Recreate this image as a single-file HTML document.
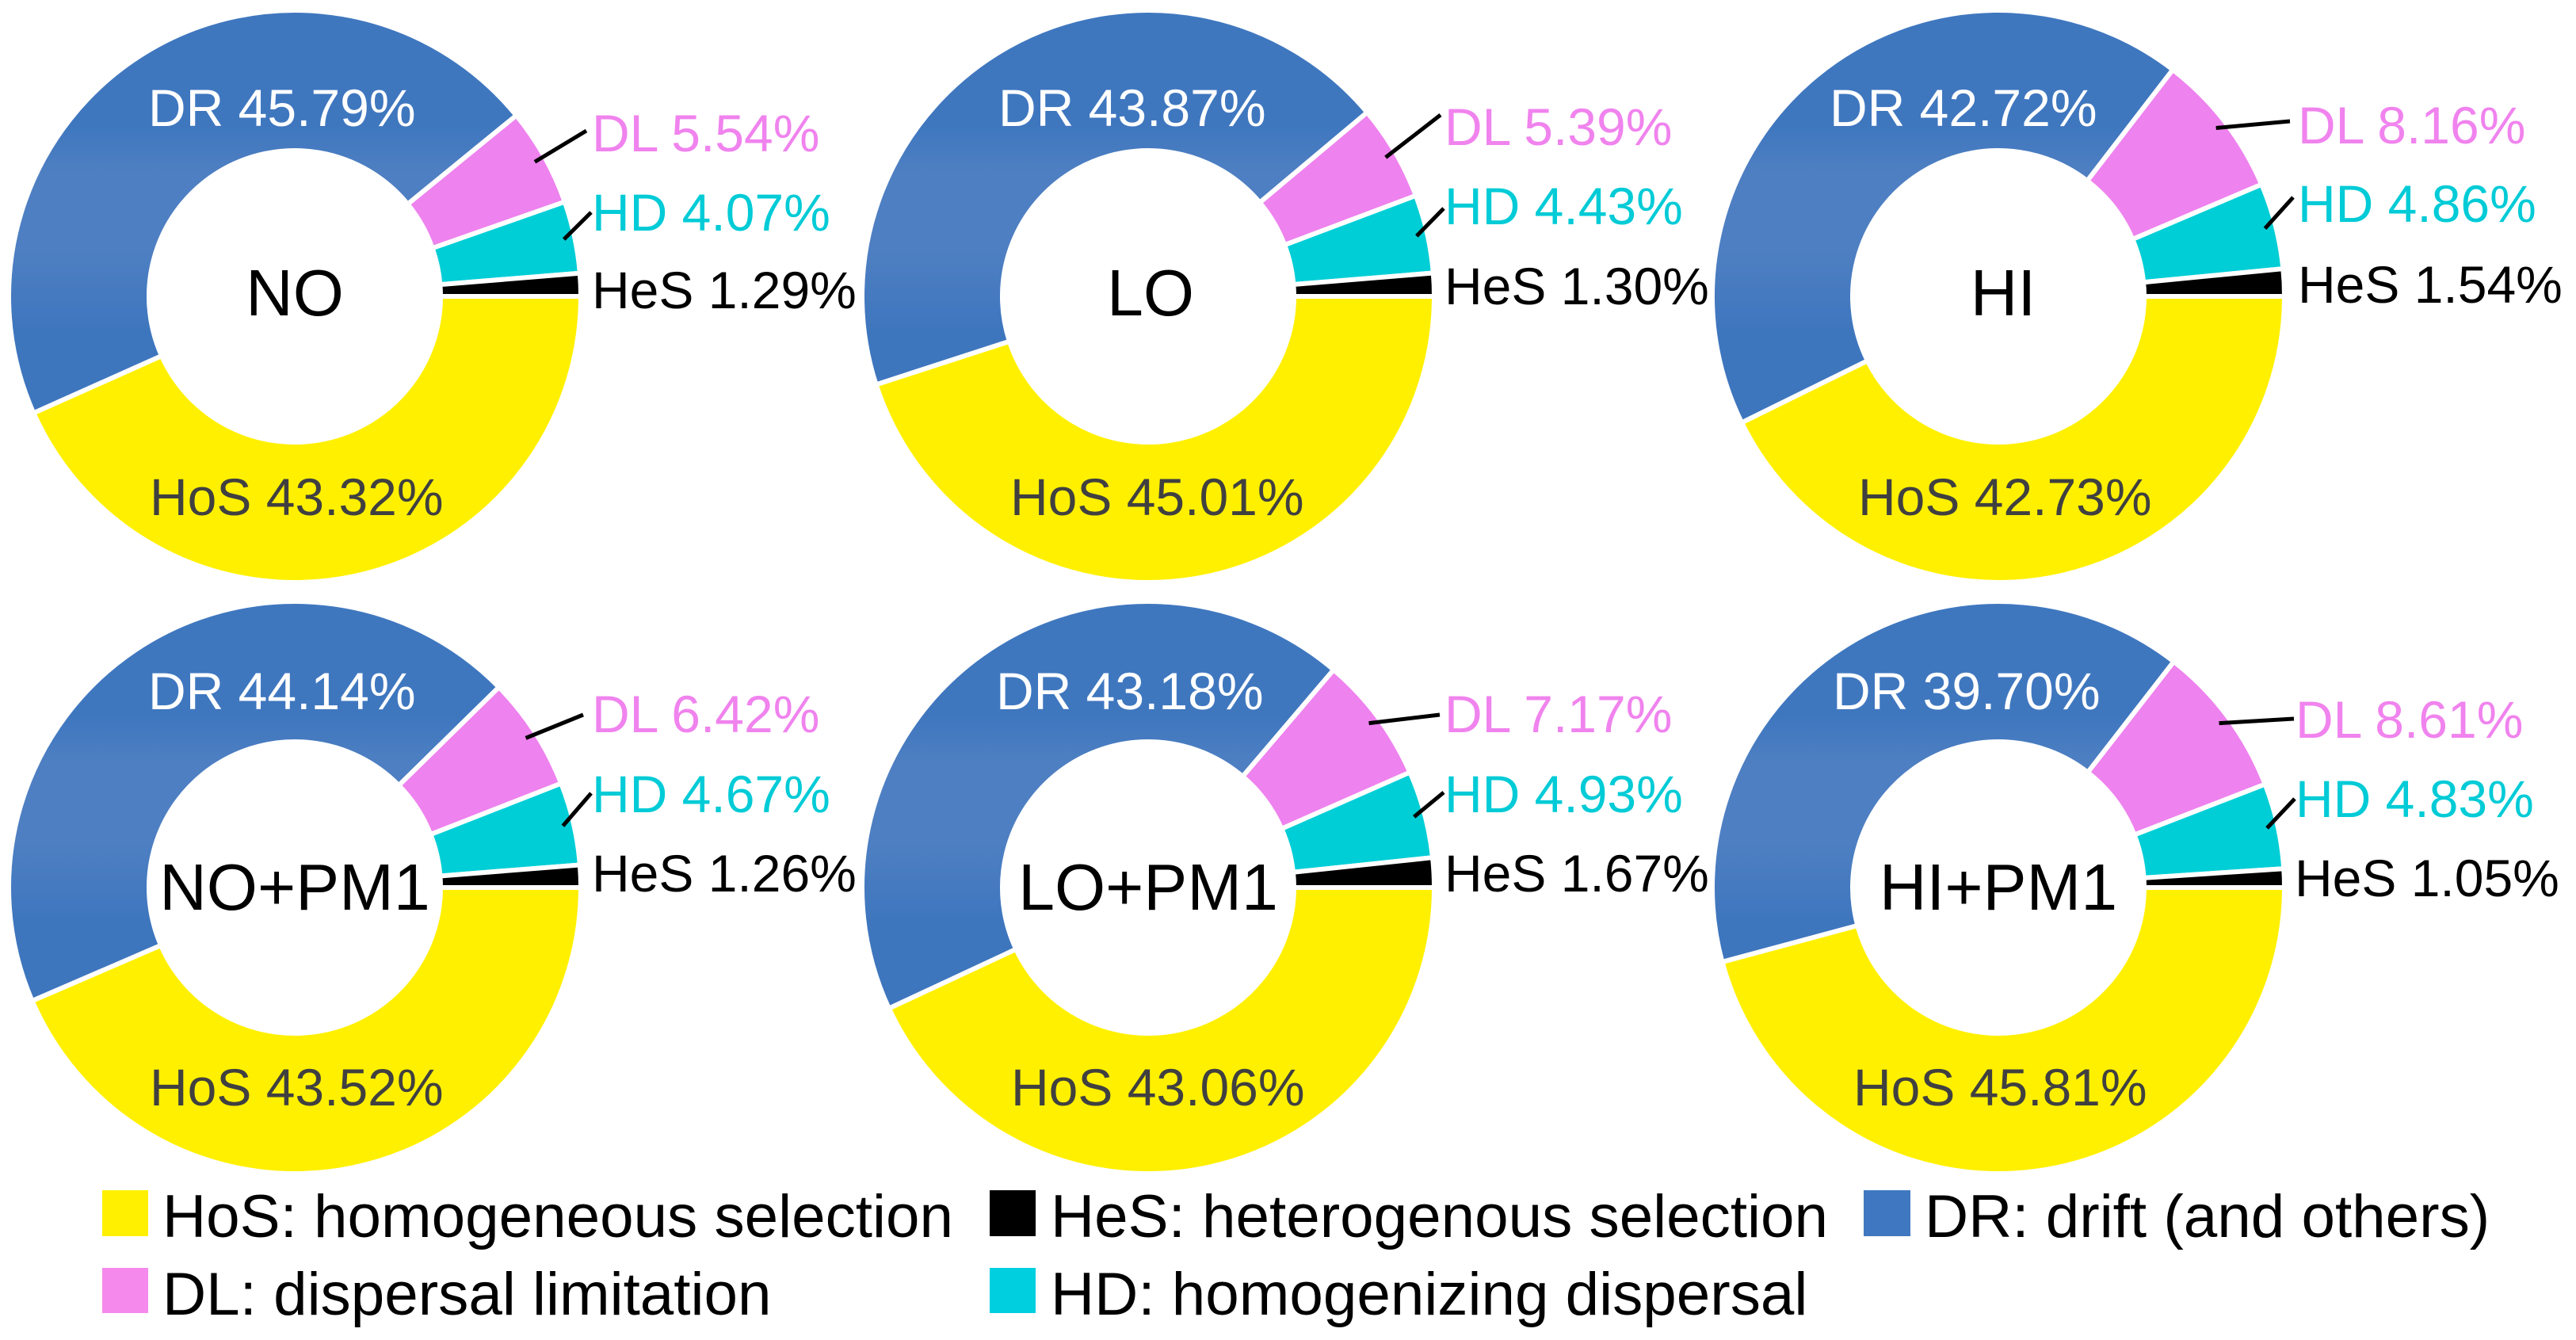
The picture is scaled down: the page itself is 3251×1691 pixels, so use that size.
<!DOCTYPE html>
<html lang="en">
<head>
<meta charset="utf-8">
<title>Community assembly process donut charts</title>
<style>
html,body{margin:0;padding:0;background:#fff;}
body{width:3251px;height:1691px;overflow:hidden;}
svg{display:block;font-family:"Liberation Sans",Arial,sans-serif;}
</style>
</head>
<body>
<svg id="chart" xmlns="http://www.w3.org/2000/svg" width="3251" height="1691" viewBox="0 0 3251 1691">
  <rect x="0" y="0" width="3251" height="1691" fill="#ffffff"/>
  <g id="panels"></g>
  <g id="legend">
    <rect x="129" y="1502" width="58" height="58" fill="#fff000"/>
    <text x="205" y="1561" font-size="76.4" fill="#000">HoS: homogeneous selection</text>
    <rect x="1249" y="1502" width="58" height="58" fill="#000"/>
    <text x="1326" y="1561" font-size="76.4" fill="#000">HeS: heterogenous selection</text>
    <rect x="2352" y="1502" width="59" height="58" fill="#3f78c0"/>
    <text x="2429" y="1561" font-size="76.4" fill="#000">DR: drift (and others)</text>
    <rect x="129" y="1600" width="58" height="57" fill="#f58aec"/>
    <text x="205" y="1659" font-size="76.4" fill="#000">DL: dispersal limitation</text>
    <rect x="1249" y="1600" width="58" height="57" fill="#00cfe0"/>
    <text x="1326" y="1659" font-size="76.4" fill="#000">HD: homogenizing dispersal</text>
  </g>
</svg>
<script>
const panelNames = ["NO", "LO", "HI", "NO+PM1", "LO+PM1", "HI+PM1"];
const hosValues = [43.32, 45.01, 42.73, 43.52, 43.06, 45.81];
const drValues  = [45.79, 43.87, 42.72, 44.14, 43.18, 39.70];
const dlValues  = [5.54, 5.39, 8.16, 6.42, 7.17, 8.61];
const hdValues  = [4.07, 4.43, 4.86, 4.67, 4.93, 4.83];
const hesValues = [1.29, 1.30, 1.54, 1.26, 1.67, 1.05];
const seriesNames = ["HoS", "DR", "DL", "HD", "HeS"];

// Layout (not data)
const NS = "http://www.w3.org/2000/svg";
const R = 358, RIN = 187, GAP = 6;
const frames = [
  {cx:372,  cy:374,  tx:372,  title:398,  dr:[187,159],  hos:[189,650],  rx:747,  hesx:747,  dl:191, hd:291, hes:389,  dlEnd:[740,165],   hdEnd:[746,268]},
  {cx:1449, cy:374,  tx:1452, title:398,  dr:[1260,159], hos:[1275,650], rx:1823, hesx:1823, dl:183, hd:283, hes:384,  dlEnd:[1818,145],  hdEnd:[1822,263]},
  {cx:2522, cy:374,  tx:2528, title:398,  dr:[2309,159], hos:[2345,650], rx:2900, hesx:2900, dl:181, hd:280, hes:382,  dlEnd:[2890,153],  hdEnd:[2894,249]},
  {cx:372,  cy:1120, tx:372,  title:1148, dr:[187,895],  hos:[189,1395], rx:747,  hesx:747,  dl:924, hd:1025, hes:1125, dlEnd:[736,902],   hdEnd:[746,1001]},
  {cx:1449, cy:1120, tx:1449, title:1148, dr:[1257,895], hos:[1276,1395],rx:1823, hesx:1823, dl:924, hd:1025, hes:1125, dlEnd:[1817,902],  hdEnd:[1822,1000]},
  {cx:2522, cy:1120, tx:2522, title:1148, dr:[2313,895], hos:[2339,1395],rx:2897, hesx:2896, dl:931, hd:1031, hes:1131, dlEnd:[2895,907],  hdEnd:[2896,1008]}
];
const fills = {HoS:"#fff000", DL:"#ee82ee", HD:"#00ced6", HeS:"#000000"};
const labelColors = {HoS:"#404040", DR:"#ffffff", DL:"#f083ee", HD:"#00cbd6", HeS:"#000000"};

function polar(cx, cy, r, pct, total) {
  const a = pct / total * 2 * Math.PI;
  return [cx + r * Math.cos(a), cy + r * Math.sin(a)];
}
function arcPath(cx, cy, ro, ri, from, to, total) {
  const large = (to - from) / total > 0.5 ? 1 : 0;
  const p1 = polar(cx, cy, ro, from, total), p2 = polar(cx, cy, ro, to, total);
  const p3 = polar(cx, cy, ri, to, total), p4 = polar(cx, cy, ri, from, total);
  return "M" + p1 + "A" + ro + " " + ro + " 0 " + large + " 1 " + p2 +
         "L" + p3 + "A" + ri + " " + ri + " 0 " + large + " 0 " + p4 + "Z";
}
function addLabel(parent, name, x, y, size, color, str, anchor) {
  const t = document.createElementNS(NS, "text");
  
  
  t.setAttribute("x", x);
  t.setAttribute("y", y);
  t.setAttribute("font-size", size);
  t.setAttribute("fill", color);
  if (anchor) t.setAttribute("text-anchor", anchor);
  t.textContent = str;
  parent.appendChild(t);
}
function addLeader(parent, name, from, to) {
  const l = document.createElementNS(NS, "line");
  
  
  l.setAttribute("x1", from[0]);
  l.setAttribute("y1", from[1]);
  l.setAttribute("x2", to[0]);
  l.setAttribute("y2", to[1]);
  l.setAttribute("stroke", "#000");
  l.setAttribute("stroke-width", "5");
  parent.appendChild(l);
}

const panelsRoot = document.getElementById("panels");
const defs = document.createElementNS(NS, "defs");
panelsRoot.appendChild(defs);

panelNames.forEach(function (title, i) {
  const f = frames[i];
  const vals = [hosValues[i], drValues[i], dlValues[i], hdValues[i], hesValues[i]];
  const total = vals.reduce(function (a, b) { return a + b; }, 0);
  const key = title.toLowerCase().replace("+", "-");

  const g = document.createElementNS(NS, "g");
  
  
  panelsRoot.appendChild(g);

  const grad = document.createElementNS(NS, "linearGradient");
  grad.setAttribute("id", "dr-grad-" + i);
  grad.setAttribute("gradientUnits", "userSpaceOnUse");
  grad.setAttribute("x1", 0); grad.setAttribute("x2", 0);
  grad.setAttribute("y1", f.cy - R); grad.setAttribute("y2", f.cy + R);
  [[0, "#3f77bf"], [0.2, "#3f77bf"], [0.28, "#4e7fc2"], [0.42, "#4e7fc2"], [0.56, "#3e76be"], [1, "#3e76be"]].forEach(function (s) {
    const st = document.createElementNS(NS, "stop");
    st.setAttribute("offset", s[0]);
    st.setAttribute("stop-color", s[1]);
    grad.appendChild(st);
  });
  defs.appendChild(grad);

  let cum = 0;
  const mids = {};
  seriesNames.forEach(function (s, k) {
    const from = cum, to = cum + vals[k];
    mids[s] = (from + to) / 2;
    const p = document.createElementNS(NS, "path");
    
    
    p.setAttribute("d", arcPath(f.cx, f.cy, R + GAP / 2, RIN - GAP / 2, from, to, total));
    p.setAttribute("fill", s === "DR" ? "url(#dr-grad-" + i + ")" : fills[s]);
    p.setAttribute("stroke", "#fff");
    p.setAttribute("stroke-width", GAP);
    g.appendChild(p);
    cum = to;
  });

  addLeader(g, "leader-dl-" + key, polar(f.cx, f.cy, R * 0.97, mids.DL, total), f.dlEnd);
  addLeader(g, "leader-hd-" + key, polar(f.cx, f.cy, R * 0.97, mids.HD, total), f.hdEnd);

  addLabel(g, "panel-title-" + key, f.tx, f.title, 82.5, "#000", title, "middle");
  addLabel(g, "value-label-dr-" + key, f.dr[0], f.dr[1], 66, labelColors.DR, "DR " + drValues[i].toFixed(2) + "%");
  addLabel(g, "value-label-hos-" + key, f.hos[0], f.hos[1], 66, labelColors.HoS, "HoS " + hosValues[i].toFixed(2) + "%");
  addLabel(g, "value-label-dl-" + key, f.rx, f.dl, 66, labelColors.DL, "DL " + dlValues[i].toFixed(2) + "%");
  addLabel(g, "value-label-hd-" + key, f.rx, f.hd, 66, labelColors.HD, "HD " + hdValues[i].toFixed(2) + "%");
  addLabel(g, "value-label-hes-" + key, f.hesx, f.hes, 66, labelColors.HeS, "HeS " + hesValues[i].toFixed(2) + "%");
});
</script>
</body>
</html>
